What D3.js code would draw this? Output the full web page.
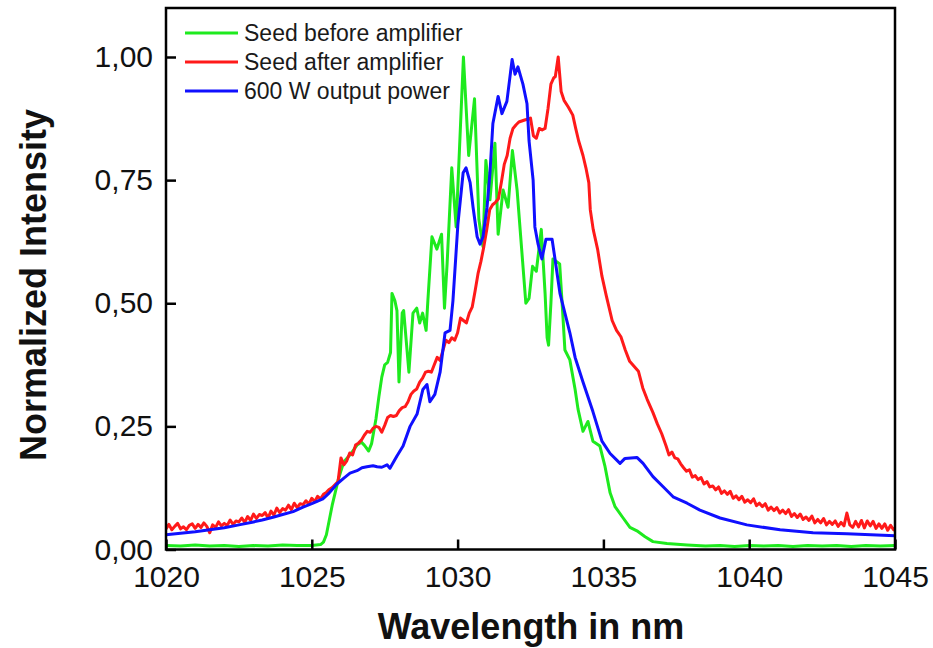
<!DOCTYPE html>
<html>
<head>
<meta charset="utf-8">
<script src="https://cdn.jsdelivr.net/npm/d3@7"></script>
<style>
  body { margin: 0; background: #fff; }
  svg { font-family: "Liberation Sans", Arial, sans-serif; }
  .axis path, .axis line { stroke: #000; }
  .axis text { fill: #111; font-size: 30px; }
</style>
</head>
<body>
<div id="chart"></div>
<script>
// values, [wavelength nm, normalized intensity]
const seedBefore = [
  [1020.0, .008], [1020.5, .007], [1021.0, .009], [1021.5, .007], [1022.0, .008], [1022.5, .006],
  [1023.0, .008], [1023.5, .007], [1024.0, .009], [1024.5, .008], [1025.0, .008], [1025.3, .010],
  [1025.4, .015], [1025.5, .030], [1025.6, .060], [1025.7, .090], [1025.8, .115], [1025.9, .140],
  [1026.0, .160], [1026.1, .178], [1026.2, .185], [1026.35, .195], [1026.55, .212], [1026.7, .218],
  [1026.8, .212], [1026.95, .200], [1027.05, .215], [1027.2, .265], [1027.3, .310], [1027.4, .350],
  [1027.5, .375], [1027.6, .380], [1027.7, .400], [1027.75, .520], [1027.85, .505], [1027.92, .485],
  [1027.99, .340], [1028.1, .480], [1028.15, .485], [1028.33, .360], [1028.47, .480], [1028.6, .490],
  [1028.7, .460], [1028.8, .480], [1028.92, .445], [1028.98, .505], [1029.12, .635], [1029.29, .610],
  [1029.45, .640], [1029.55, .490], [1029.64, .580], [1029.8, .775], [1029.95, .655], [1030.2, 1.0],
  [1030.38, .800], [1030.58, .915], [1030.73, .670], [1030.87, .615], [1030.97, .790], [1031.11, .710],
  [1031.28, .825], [1031.39, .640], [1031.56, .730], [1031.73, .695], [1031.88, .810], [1032.04, .730],
  [1032.19, .615], [1032.34, .500], [1032.45, .510], [1032.57, .575], [1032.7, .565], [1032.87, .650],
  [1033.0, .520], [1033.07, .430], [1033.12, .415], [1033.2, .500], [1033.27, .590], [1033.5, .580],
  [1033.6, .485], [1033.68, .405], [1033.85, .385], [1034.03, .325], [1034.13, .285], [1034.3, .240],
  [1034.47, .260], [1034.64, .220], [1034.88, .210], [1035.05, .170], [1035.23, .115], [1035.4, .087],
  [1035.64, .067], [1035.91, .045], [1036.15, .038], [1036.43, .026], [1036.7, .016], [1037.18, .012],
  [1037.87, .009], [1038.5, .007], [1039.0, .008], [1039.5, .006], [1040.0, .008], [1040.5, .007],
  [1041.0, .008], [1041.5, .006], [1042.0, .008], [1042.5, .007], [1043.0, .008], [1043.5, .006],
  [1044.0, .008], [1044.5, .007], [1045.0, .008]
];

const seedAfter = [
  [1020.0, .042], [1020.1, .051], [1020.2, .040], [1020.3, .047], [1020.4, .053], [1020.5, .042],
  [1020.6, .046], [1020.7, .040], [1020.8, .049], [1020.9, .052], [1021.0, .043], [1021.1, .051],
  [1021.2, .045], [1021.3, .054], [1021.4, .047], [1021.5, .034], [1021.6, .050], [1021.7, .045],
  [1021.8, .056], [1021.9, .048], [1022.0, .053], [1022.1, .049], [1022.2, .060], [1022.3, .051],
  [1022.4, .058], [1022.5, .056], [1022.6, .064], [1022.7, .055], [1022.8, .067], [1022.9, .059],
  [1023.0, .072], [1023.1, .063], [1023.2, .071], [1023.3, .069], [1023.4, .075], [1023.5, .064],
  [1023.6, .078], [1023.7, .070], [1023.8, .084], [1023.9, .075], [1024.0, .083], [1024.1, .080],
  [1024.2, .090], [1024.3, .081], [1024.4, .094], [1024.5, .085], [1024.6, .093], [1024.7, .091],
  [1024.8, .099], [1024.9, .092], [1025.0, .104], [1025.1, .097], [1025.2, .108], [1025.3, .103],
  [1025.4, .112], [1025.5, .116], [1025.6, .122], [1025.7, .126], [1025.8, .132], [1025.9, .138],
  [1026.0, .186], [1026.1, .172], [1026.2, .180], [1026.3, .196], [1026.4, .192], [1026.5, .212],
  [1026.6, .216], [1026.7, .222], [1026.8, .232], [1026.9, .240], [1027.0, .238], [1027.1, .246],
  [1027.2, .250], [1027.3, .248], [1027.4, .238], [1027.5, .252], [1027.6, .268], [1027.7, .272],
  [1027.8, .270], [1027.9, .272], [1028.0, .282], [1028.1, .288], [1028.2, .290], [1028.3, .300],
  [1028.4, .315], [1028.5, .322], [1028.6, .326], [1028.7, .340], [1028.8, .348], [1028.9, .360],
  [1029.0, .362], [1029.1, .360], [1029.2, .375], [1029.3, .390], [1029.4, .384], [1029.5, .405],
  [1029.6, .425], [1029.7, .420], [1029.8, .430], [1029.9, .425], [1030.0, .440], [1030.1, .470],
  [1030.2, .465], [1030.3, .460], [1030.4, .480], [1030.5, .492], [1030.6, .525], [1030.7, .560],
  [1030.8, .585], [1030.9, .615], [1031.0, .650], [1031.1, .690], [1031.2, .700], [1031.3, .705],
  [1031.4, .712], [1031.5, .745], [1031.6, .782], [1031.7, .800], [1031.8, .835], [1031.9, .855],
  [1032.0, .862], [1032.1, .868], [1032.2, .870], [1032.3, .872], [1032.4, .874], [1032.5, .876],
  [1032.6, .840], [1032.7, .835], [1032.8, .855], [1032.9, .852], [1033.0, .855], [1033.1, .895],
  [1033.2, .945], [1033.3, .958], [1033.35, .960], [1033.45, 1.0], [1033.55, .930], [1033.65, .912],
  [1033.8, .898], [1033.95, .882], [1034.05, .855], [1034.15, .830], [1034.3, .800], [1034.4, .775],
  [1034.5, .745], [1034.55, .690], [1034.65, .650], [1034.8, .610], [1034.95, .555], [1035.1, .515],
  [1035.3, .465], [1035.45, .445], [1035.6, .432], [1035.75, .405], [1035.9, .382], [1036.05, .372],
  [1036.2, .362], [1036.35, .328], [1036.5, .305], [1036.7, .278], [1036.85, .255], [1037.0, .235],
  [1037.15, .210], [1037.25, .192], [1037.35, .198], [1037.45, .186], [1037.55, .184], [1037.65, .174],
  [1037.75, .166], [1037.85, .159], [1037.95, .162], [1038.05, .147], [1038.15, .150], [1038.25, .142],
  [1038.35, .146], [1038.45, .133], [1038.55, .138], [1038.65, .127], [1038.75, .129], [1038.85, .121],
  [1038.95, .127], [1039.05, .114], [1039.15, .119], [1039.25, .112], [1039.35, .118], [1039.45, .104],
  [1039.55, .109], [1039.65, .101], [1039.75, .108], [1039.85, .096], [1039.95, .101], [1040.05, .095],
  [1040.15, .103], [1040.25, .089], [1040.35, .094], [1040.45, .087], [1040.55, .093], [1040.65, .080],
  [1040.75, .086], [1040.85, .079], [1040.95, .085], [1041.05, .074], [1041.15, .080], [1041.25, .073],
  [1041.35, .081], [1041.45, .067], [1041.55, .073], [1041.65, .065], [1041.75, .072], [1041.85, .061],
  [1041.95, .066], [1042.05, .059], [1042.15, .068], [1042.25, .054], [1042.35, .061], [1042.45, .054],
  [1042.55, .063], [1042.65, .050], [1042.75, .057], [1042.85, .051], [1042.95, .058], [1043.05, .047],
  [1043.15, .055], [1043.25, .048], [1043.35, .074], [1043.45, .050], [1043.55, .045], [1043.65, .057],
  [1043.75, .046], [1043.85, .059], [1043.95, .044], [1044.05, .058], [1044.15, .048], [1044.25, .057],
  [1044.35, .043], [1044.45, .052], [1044.55, .043], [1044.65, .052], [1044.75, .039], [1044.85, .049],
  [1044.95, .040], [1045.0, .044]
];

const output600W = [
  [1020.0, .030], [1020.5, .033], [1021.0, .036], [1021.5, .040], [1022.0, .044], [1022.5, .050],
  [1023.0, .056], [1023.3, .060], [1023.7, .066], [1024.0, .071], [1024.36, .077], [1024.7, .086],
  [1025.0, .093], [1025.38, .103], [1025.6, .115], [1025.86, .133], [1026.1, .145], [1026.31, .155],
  [1026.55, .160], [1026.72, .166], [1026.89, .168], [1027.1, .170], [1027.24, .168], [1027.4, .167],
  [1027.58, .172], [1027.68, .165], [1027.92, .190], [1028.13, .210], [1028.37, .250], [1028.61, .275],
  [1028.81, .325], [1028.95, .335], [1029.05, .300], [1029.22, .315], [1029.4, .360], [1029.57, .440],
  [1029.74, .445], [1029.84, .505], [1030.01, .660], [1030.19, .765], [1030.29, .775], [1030.43, .745],
  [1030.53, .695], [1030.67, .635], [1030.77, .620], [1030.87, .635], [1031.01, .695], [1031.11, .765],
  [1031.21, .865], [1031.39, .920], [1031.52, .885], [1031.69, .910], [1031.87, .995], [1031.97, .965],
  [1032.07, .980], [1032.24, .945], [1032.38, .905], [1032.45, .830], [1032.59, .750], [1032.65, .655],
  [1032.76, .620], [1032.89, .590], [1033.03, .630], [1033.24, .630], [1033.34, .590], [1033.51, .520],
  [1033.68, .480], [1033.85, .440], [1034.03, .390], [1034.3, .340], [1034.64, .280], [1034.95, .220],
  [1035.23, .195], [1035.57, .175], [1035.74, .185], [1036.15, .187], [1036.36, .175], [1036.7, .148],
  [1037.04, .128], [1037.39, .107], [1037.87, .094], [1038.31, .080], [1039.0, .064], [1039.92, .050],
  [1041.06, .040], [1042.19, .034], [1043.35, .032], [1045.0, .028]
];

const seriesNames = ['Seed before amplifier', 'Seed after amplifier', '600 W output power'];
const seriesColors = ['#1eea1e', '#ff1a1a', '#1010ff'];
const xTicks = [1020, 1025, 1030, 1035, 1040, 1045];
const yTicks = [0, 0.25, 0.5, 0.75, 1.0];

let w = 933, h = 648;
let margin = { left: 166, right: 38, top: 8, bottom: 99 };
let svg = d3.select('#chart').append('svg').attr('width', w).attr('height', h);

let x = d3.scaleLinear().domain([1020, 1045]).range([margin.left, w - margin.right]);
let y = d3.scaleLinear().domain([0, 1.0]).range([549.5, 57]);

// clip so the lines stay inside the frame
svg.append('clipPath').attr('id', 'plot').append('rect')
    .attr('x', margin.left).attr('y', margin.top)
    .attr('width', w - margin.right - margin.left).attr('height', 549.5 - margin.top);

let line = d3.line().x(d => x(d[0])).y(d => y(d[1]));

let allSeries = [seedBefore, seedAfter, output600W];
allSeries.forEach(function (s, i) {
    svg.append('path').datum(s)
        .attr('clip-path', 'url(#plot)')
        .attr('fill', 'none')
        .attr('stroke', seriesColors[i])
        .attr('stroke-width', 3)
        .attr('stroke-linejoin', 'round')
        .attr('d', line);
});

// axes, ticks pointing inward
let fmt = d3.format('.2f');
svg.append('g').attr('class', 'axis')
    .attr('transform', 'translate(0,549.5)')
    .call(d3.axisBottom(x).tickValues(xTicks).tickSizeInner(-10).tickSizeOuter(0).tickPadding(16.5)
        .tickFormat(d3.format('d')))
    .call(g => g.select('.domain').remove())
    .call(g => g.selectAll('.tick line').attr('stroke-width', 2.5));

svg.append('g').attr('class', 'axis')
    .attr('transform', `translate(${margin.left},0)`)
    .call(d3.axisLeft(y).tickValues(yTicks).tickSizeInner(-10).tickSizeOuter(0).tickPadding(13)
        .tickFormat(d => fmt(d).replace('.', ',')))
    .call(g => g.select('.domain').remove())
    .call(g => g.selectAll('.tick line').attr('stroke-width', 2.5));

// frame
svg.append('rect')
    .attr('x', margin.left).attr('y', margin.top)
    .attr('width', w - margin.right - margin.left).attr('height', 549.5 - margin.top)
    .attr('fill', 'none').attr('stroke', '#000').attr('stroke-width', 2.5);

// axis titles
svg.append('text')
    .attr('x', 531).attr('y', 639)
    .attr('text-anchor', 'middle')
    .attr('font-size', 36).attr('font-weight', 'bold').attr('fill', '#111')
    .text('Wavelength in nm');

svg.append('text')
    .attr('transform', 'translate(46,285) rotate(-90)')
    .attr('text-anchor', 'middle')
    .attr('font-size', 36).attr('font-weight', 'bold').attr('fill', '#111')
    .text('Normalized Intensity');

// legend
let legend = svg.append('g');
seriesNames.forEach(function (name, i) {
    let ly = 33 + i * 29;
    legend.append('line')
        .attr('x1', 185).attr('x2', 238).attr('y1', ly).attr('y2', ly)
        .attr('stroke', seriesColors[i]).attr('stroke-width', 3);
    legend.append('text')
        .attr('x', 244).attr('y', ly).attr('dy', '0.36em')
        .attr('font-size', 23).attr('fill', '#1a1a1a')
        .text(name);
});
</script>
</body>
</html>
